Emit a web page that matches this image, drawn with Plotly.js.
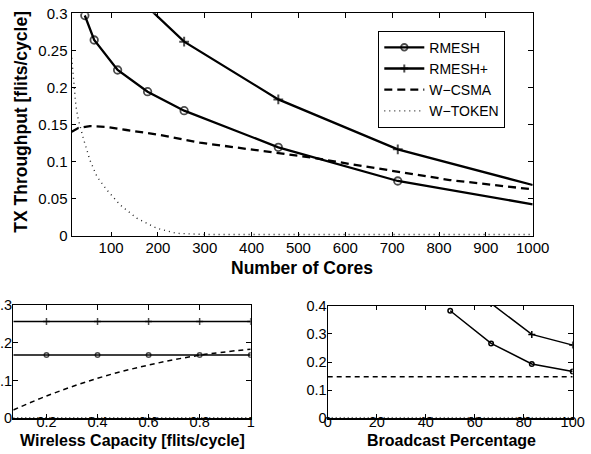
<!DOCTYPE html>
<html>
<head>
<meta charset="utf-8">
<script src="https://cdn.plot.ly/plotly-3.0.1.min.js"></script>
<style>html,body{margin:0;padding:0;background:#fff;}#chart{width:591px;height:454px;}</style>
</head>
<body>
<div id="chart"></div>
<script>
// ---- Main plot: throughput vs number of cores ----
const coresRMESH = [44, 64, 114, 178, 256, 457, 712, 1000];
const thrRMESH = [0.297, 0.264, 0.2236, 0.1944, 0.1688, 0.1195, 0.0741, 0.0427];
const coresRMESHp = [178, 256, 457, 712, 1000];
const thrRMESHp = [0.3084, 0.2618, 0.184, 0.1168, 0.0687];
const coresCSMA = [16, 30, 55, 90, 133, 205, 290, 397, 525, 610, 717, 823, 1000];
const thrCSMA = [0.1405, 0.1455, 0.148, 0.147, 0.1428, 0.136, 0.1257, 0.117, 0.106, 0.097, 0.0866, 0.0754, 0.0628];
const coresTOKEN = [16, 20, 25, 30, 35, 42, 55, 70, 91, 119, 155, 198, 240, 300, 400, 600, 800, 1000];
const thrTOKEN = [0.24, 0.205, 0.175, 0.157, 0.145, 0.129, 0.102, 0.080, 0.062, 0.042, 0.024, 0.0104, 0.0036, 0.002, 0.002, 0.002, 0.002, 0.002];

// ---- Bottom-left: throughput vs wireless capacity ----
const wcap = [0.07, 0.2, 0.4, 0.6, 0.8, 1.0];
const wcRMESH = [0.1676, 0.1676, 0.1676, 0.1676, 0.1676, 0.1676];
const wcRMESHp = [0.256, 0.256, 0.256, 0.256, 0.256, 0.256];
const wcCSMA = [0.022, 0.059, 0.106, 0.141, 0.167, 0.183];
const wcTOKEN = [0.002, 0.002, 0.002, 0.002, 0.002, 0.002];

// ---- Bottom-right: throughput vs broadcast percentage ----
const bcPct = [50, 66.7, 83.3, 100];
const bcRMESH = [0.382, 0.266, 0.193, 0.166];
const bcPctP = [66.7, 83.3, 100];
const bcRMESHp = [0.408, 0.298, 0.26];
const bcFlat = [0, 100];
const bcCSMA = [0.148, 0.148];
const bcTOKEN = [0.003, 0.003];

// ---- Tick labels / titles ----
const mainXTitle = 'Number of Cores';
const mainYTitle = 'TX Throughput [flits/cycle]';
const blXTitle = 'Wireless Capacity [flits/cycle]';
const brXTitle = 'Broadcast Percentage';
const names = ['RMESH', 'RMESH+', 'W\u2212CSMA', 'W\u2212TOKEN'];

const FONT = 'Liberation Sans, Arial, Helvetica, sans-serif';
const K = '#000';

const traces = [
  {x: coresRMESH, y: thrRMESH, name: names[0], mode: 'lines+markers', xaxis: 'x', yaxis: 'y',
   line: {color: K, width: 2.3},
   marker: {symbol: 'circle-open', size: [7.5,7.5,7.5,7.5,7.5,7.5,7.5,0], color: K, line: {width: 1.8, color: K}}},
  {x: coresRMESHp, y: thrRMESHp, name: names[1], mode: 'lines+markers', xaxis: 'x', yaxis: 'y',
   line: {color: K, width: 2.3},
   marker: {symbol: 'cross-thin-open', size: [7,7,7,7,0], color: K, line: {width: 2, color: K}}},
  {x: coresCSMA, y: thrCSMA, name: names[2], mode: 'lines', xaxis: 'x', yaxis: 'y',
   line: {color: K, width: 2.3, dash: '8px,5px'}},
  {x: coresTOKEN, y: thrTOKEN, name: names[3], mode: 'lines', xaxis: 'x', yaxis: 'y',
   line: {color: '#222', width: 1.4, dash: '1px,4px'}},

  {x: wcap, y: wcRMESH, mode: 'lines+markers', xaxis: 'x2', yaxis: 'y2', showlegend: false,
   line: {color: K, width: 1.5},
   marker: {symbol: 'circle-open', size: [0,4.5,4.5,4.5,4.5,4.5], color: K, line: {width: 1.5, color: K}}},
  {x: wcap, y: wcRMESHp, mode: 'lines+markers', xaxis: 'x2', yaxis: 'y2', showlegend: false,
   line: {color: K, width: 1.5},
   marker: {symbol: 'cross-thin-open', size: [0,5,5,5,5,5], color: K, line: {width: 1.5, color: K}}},
  {x: wcap, y: wcCSMA, mode: 'lines', xaxis: 'x2', yaxis: 'y2', showlegend: false, line: {shape: 'spline', color: K, width: 1.5, dash: '5px,4px'}},
  {x: wcap, y: wcTOKEN, mode: 'lines', xaxis: 'x2', yaxis: 'y2', showlegend: false, line: {color: '#333', width: 1, dash: '1px,3px'}},

  {x: bcPct, y: bcRMESH, mode: 'lines+markers', xaxis: 'x3', yaxis: 'y3', showlegend: false,
   line: {color: K, width: 1.5},
   marker: {symbol: 'circle-open', size: 4.5, color: K, line: {width: 1.5, color: K}}},
  {x: bcPctP, y: bcRMESHp, mode: 'lines+markers', xaxis: 'x3', yaxis: 'y3', showlegend: false,
   line: {color: K, width: 1.5},
   marker: {symbol: 'cross-thin-open', size: 5, color: K, line: {width: 1.5, color: K}}},
  {x: bcFlat, y: bcCSMA, mode: 'lines', xaxis: 'x3', yaxis: 'y3', showlegend: false, line: {color: K, width: 1.5, dash: '5px,4px'}},
  {x: bcFlat, y: bcTOKEN, mode: 'lines', xaxis: 'x3', yaxis: 'y3', showlegend: false, line: {color: '#333', width: 1, dash: '1px,3px'}}
];

function ax(extra) {
  return Object.assign({
    showline: true, linecolor: K, linewidth: 1.2, mirror: 'ticks',
    ticks: 'inside', ticklen: 4.5, tickcolor: K, tickwidth: 1,
    showgrid: false, zeroline: false, fixedrange: true,
    tickfont: {family: FONT, size: 15, color: K}
  }, extra);
}
const smallTick = {family: FONT, size: 14.5, color: K};

const layout = {
  width: 591, height: 454,
  margin: {l: 0, r: 0, t: 0, b: 0},
  paper_bgcolor: '#fff', plot_bgcolor: '#fff',
  font: {family: FONT, color: K},
  xaxis: ax({domain: [71.7/591, 532.7/591], range: [16, 1000], tick0: 0, dtick: 100, anchor: 'y', ticklabelstandoff: -2}),
  yaxis: ax({domain: [(454-236)/454, (454-13.3)/454], range: [0, 0.3], dtick: 0.05, anchor: 'x'}),
  xaxis2: ax({domain: [13.3/591, 250.7/591], range: [0.07, 1], tick0: 0, dtick: 0.2, anchor: 'y2', tickfont: smallTick, ticklabelstandoff: -10}),
  yaxis2: ax({domain: [(454-418.3)/454, (454-305)/454], range: [0, 0.3], dtick: 0.1, anchor: 'x2', tickfont: smallTick, ticklabelstandoff: -3}),
  xaxis3: ax({domain: [327.7/591, 572.7/591], range: [0, 100], dtick: 20, anchor: 'y3', tickfont: smallTick, ticklabelstandoff: -10}),
  yaxis3: ax({domain: [(454-418.3)/454, (454-305.7)/454], range: [0, 0.4], dtick: 0.1, anchor: 'x3', tickfont: smallTick, ticklabelstandoff: -3}),
  showlegend: true,
  legend: {x: 378.3/591, y: (454-30.7)/454, xanchor: 'left', yanchor: 'top',
           bgcolor: '#fff', bordercolor: K, borderwidth: 1,
           font: {family: FONT, size: 14, color: K}, itemwidth: 40, tracegroupgap: 0},
  annotations: [
    {text: mainXTitle, xref: 'paper', yref: 'paper', x: 302/591, y: (454-267.5)/454, xanchor: 'center', yanchor: 'middle', showarrow: false,
     font: {family: FONT, size: 17.5, weight: 'bold', color: K}},
    {text: mainYTitle, xref: 'paper', yref: 'paper', x: 20.7/591, y: (454-122)/454, xanchor: 'center', yanchor: 'middle', showarrow: false, textangle: -90,
     font: {family: FONT, size: 17.5, weight: 'bold', color: K}},
    {text: blXTitle, xref: 'paper', yref: 'paper', x: 132.9/591, y: (454-440)/454, xanchor: 'center', yanchor: 'middle', showarrow: false,
     font: {family: FONT, size: 16, weight: 'bold', color: K}},
    {text: brXTitle, xref: 'paper', yref: 'paper', x: 451/591, y: (454-440)/454, xanchor: 'center', yanchor: 'middle', showarrow: false,
     font: {family: FONT, size: 16, weight: 'bold', color: K}}
  ]
};

Plotly.newPlot('chart', traces, layout, {displayModeBar: false, staticPlot: true});
</script>
</body>
</html>
